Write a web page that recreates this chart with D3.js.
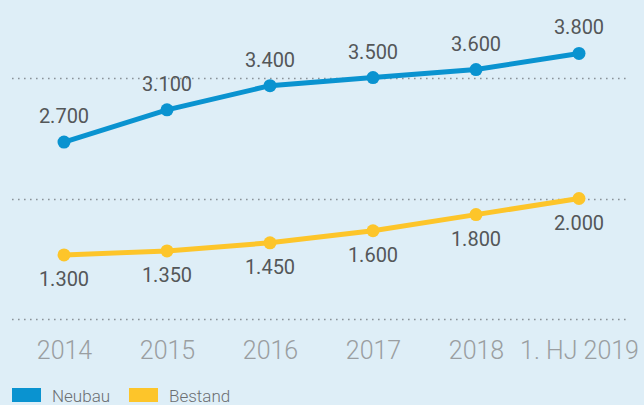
<!DOCTYPE html>
<html>
<head>
<meta charset="utf-8">
<script src="https://cdn.jsdelivr.net/npm/d3@7"></script>
<style>
  html, body { margin: 0; padding: 0; background: #deeef7; }
  svg { display: block; }
</style>
</head>
<body>
<div id="chart"></div>
<script>
// Daten
const categories = ["2014", "2015", "2016", "2017", "2018", "1. HJ 2019"];
const neubau = [2700, 3100, 3400, 3500, 3600, 3800];
const bestand = [1300, 1350, 1450, 1600, 1800, 2000];
const gridValues = [500, 2000, 3500];
const seriesNames = ["Neubau", "Bestand"];
const seriesColors = ["#0a93d0", "#fdc52a"];

const width = 644, height = 405;
const fmt = v => d3.format(",")(v).replace(/,/g, ".");

const svg = d3.select("#chart").append("svg")
    .attr("width", width)
    .attr("height", height);

svg.append("rect").attr("width", width).attr("height", height).attr("fill", "#deeef7");

const x = d3.scalePoint().domain(categories).range([64, 579]);
const y = d3.scaleLinear().domain([0, 4000]).range([359.7, 37.3]);

// Gitterlinien
svg.append("g").selectAll("line")
    .data(gridValues)
    .enter().append("line")
    .attr("x1", 12)
    .attr("x2", 628)
    .attr("y1", d => Math.round(y(d)) + 0.5)
    .attr("y2", d => Math.round(y(d)) + 0.5)
    .attr("stroke", "#8a9399")
    .attr("stroke-width", 1.6)
    .attr("stroke-dasharray", "1.6,4.4");

// X-Achse
const xAxis = svg.append("g")
    .attr("transform", "translate(0,359)")
    .call(d3.axisBottom(x).tickSize(0).tickPadding(0));
xAxis.select(".domain").remove();
xAxis.selectAll("text")
    .attr("dy", 0)
    .attr("y", 0)
    .attr("fill", "#9a9ea1")
    .style("font-family", "Roboto, sans-serif")
    .style("font-weight", 300)
    .style("font-size", "25px");

// Linien
const line = d3.line().x((d, i) => x(categories[i])).y(d => y(d));
const allSeries = [neubau, bestand];

allSeries.forEach((data, s) => {
    svg.append("path")
        .datum(data)
        .attr("fill", "none")
        .attr("stroke", seriesColors[s])
        .attr("stroke-width", 5)
        .attr("d", line);

    svg.append("g").selectAll("circle")
        .data(data)
        .enter().append("circle")
        .attr("cx", (d, i) => x(categories[i]))
        .attr("cy", d => y(d))
        .attr("r", 6.5)
        .attr("fill", seriesColors[s]);

    svg.append("g").selectAll("text")
        .data(data)
        .enter().append("text")
        .attr("x", (d, i) => x(categories[i]))
        .attr("y", d => y(d) + (s === 0 ? -26 : 24))
        .attr("dy", "0.35em")
        .attr("text-anchor", "middle")
        .attr("fill", "#545759")
        .style("font-family", "Roboto, sans-serif")
        .style("font-size", "20px")
        .text(fmt);
});

// Legende
const legendX = [12, 129];
const legend = svg.append("g").selectAll("g")
    .data(seriesNames)
    .enter().append("g")
    .attr("transform", (d, i) => "translate(" + legendX[i] + ",388)");

legend.append("rect")
    .attr("width", 29)
    .attr("height", 14)
    .attr("fill", (d, i) => seriesColors[i]);

legend.append("text")
    .attr("x", 40)
    .attr("y", 14)
    .attr("fill", "#6b6f72")
    .style("font-family", "Roboto, sans-serif")
    .style("font-weight", 300)
    .style("font-size", "17px")
    .text(d => d);
</script>
</body>
</html>
